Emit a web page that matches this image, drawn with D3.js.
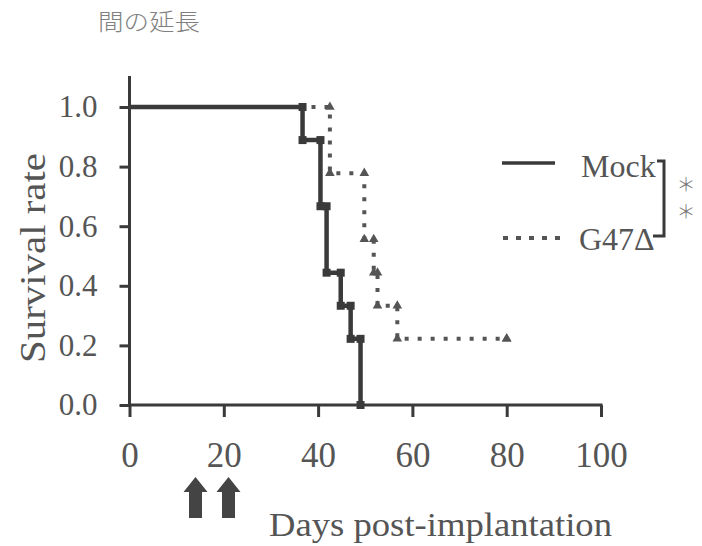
<!DOCTYPE html>
<html>
<head>
<meta charset="utf-8">
<script src="https://cdn.jsdelivr.net/npm/d3@7"></script>
<style>
  html, body { margin: 0; padding: 0; background: #fff; }
  svg { display: block; }
  text { font-family: "Liberation Serif", "DejaVu Serif", serif; }
</style>
</head>
<body>
<svg id="chart" width="702" height="546"></svg>
<script>
// ---- data ----
const title = "間の延長";
const xLabel = "Days post-implantation";
const yLabel = "Survival rate";
const xTicks = [0, 20, 40, 60, 80, 100];
const yTicks = [0.0, 0.2, 0.4, 0.6, 0.8, 1.0];
const seriesNames = ["Mock", "G47Δ"];
const mockDays = [0, 36.7, 40.5, 41.8, 44.8, 46.9, 49];
const mockSurv = [1.0, 0.889, 0.667, 0.444, 0.333, 0.222, 0.0];
const g47Days = [0, 42.5, 49.8, 51.8, 52.6, 56.8, 80];
const g47Surv = [1.0, 0.778, 0.556, 0.444, 0.333, 0.222, 0.222];
const arrowDays = [14, 21];
const significance = ["＊", "＊"];

// ---- layout ----
const svg = d3.select("#chart");
const x = d3.scaleLinear().domain([0, 100]).range([129.5, 601]);
const y = d3.scaleLinear().domain([0, 1]).range([405, 107]);
const axisColor = "#3a3a3a";
const textColor = "#555";

// title
svg.append("text").attr("x", 98).attr("y", 30)
  .style("font-family", "'Noto Sans CJK JP'").style("font-weight", 300)
  .style("font-size", "23px").attr("fill", "#808080")
  .attr("textLength", 102).attr("lengthAdjust", "spacingAndGlyphs")
  .text(title);

// axes
const gx = svg.append("g").attr("transform", `translate(0,${y(0)})`)
  .call(d3.axisBottom(x).tickValues(xTicks).tickSize(12).tickPadding(25).tickFormat(d3.format("d")));
const gy = svg.append("g").attr("transform", `translate(${x(0)},0)`)
  .call(d3.axisLeft(y).tickValues(yTicks).tickSize(10).tickPadding(22).tickFormat(d3.format(".1f")));
[gx, gy].forEach(g => {
  g.select(".domain").remove();
  g.selectAll(".tick line").attr("stroke", axisColor).attr("stroke-width", 3);
  g.selectAll(".tick text").attr("fill", textColor).style("font-family", "'Liberation Serif'");
});
gx.selectAll(".tick text").style("font-size", "35px");
gy.selectAll(".tick text").style("font-size", "31px");
// axis lines
svg.append("line").attr("x1", x(0)).attr("x2", x(0)).attr("y1", 76).attr("y2", y(0))
  .attr("stroke", axisColor).attr("stroke-width", 3);
svg.append("line").attr("x1", x(0)).attr("x2", x(100) + 1.5).attr("y1", y(0)).attr("y2", y(0))
  .attr("stroke", axisColor).attr("stroke-width", 3);

// axis titles
svg.append("text").attr("transform", `translate(45,${y(0.5) + 2}) rotate(-90)`)
  .attr("text-anchor", "middle").attr("fill", textColor)
  .style("font-size", "35px")
  .attr("textLength", 210).attr("lengthAdjust", "spacingAndGlyphs")
  .text(yLabel);
svg.append("text").attr("x", 269).attr("y", 536).attr("fill", textColor)
  .style("font-size", "34px")
  .attr("textLength", 343).attr("lengthAdjust", "spacingAndGlyphs")
  .text(xLabel);

// survival curves
const mock = mockDays.map((d, i) => ({ d, s: mockSurv[i] }));
const g47 = g47Days.map((d, i) => ({ d, s: g47Surv[i] }));
const line = d3.line().x(p => x(p.d)).y(p => y(p.s)).curve(d3.curveStepAfter);

svg.append("path").datum(g47).attr("d", line).attr("fill", "none")
  .attr("stroke", "#555").attr("stroke-width", 4).attr("stroke-dasharray", "4,9");
svg.append("path").datum(mock).attr("d", line).attr("fill", "none")
  .attr("stroke", "#3a3a3a").attr("stroke-width", 4.5);

// markers at step corners
function corners(arr) {
  const pts = [];
  arr.forEach((p, i) => {
    if (i > 0) pts.push({ d: p.d, s: arr[i - 1].s });
    pts.push(p);
  });
  return pts.filter(p => p.d > 0);
}
svg.append("g").selectAll("rect").data(corners(mock)).join("rect")
  .attr("x", p => x(p.d) - 4).attr("y", p => y(p.s) - 4).attr("width", 8).attr("height", 8)
  .attr("fill", "#3a3a3a");
const tri = d3.symbol().type(d3.symbolTriangle).size(40);
svg.append("g").selectAll("path").data(corners(g47)).join("path")
  .attr("transform", p => `translate(${x(p.d)},${y(p.s)})`).attr("d", tri)
  .attr("fill", "#555");

// legend
svg.append("line").attr("x1", 502).attr("x2", 555).attr("y1", 163).attr("y2", 163)
  .attr("stroke", "#3a3a3a").attr("stroke-width", 3.5);
svg.append("line").attr("x1", 503).attr("x2", 560).attr("y1", 238).attr("y2", 238)
  .attr("stroke", "#555").attr("stroke-width", 4).attr("stroke-dasharray", "5,8");
svg.append("text").attr("x", 581).attr("y", 177).attr("fill", textColor)
  .style("font-size", "32px").text(seriesNames[0]);
svg.append("text").attr("x", 579).attr("y", 250).attr("fill", textColor)
  .style("font-size", "32px").text(seriesNames[1]);
svg.append("path").attr("d", "M657,161 H664 V236 H653")
  .attr("fill", "none").attr("stroke", "#3a3a3a").attr("stroke-width", 3);
significance.forEach((c, i) => {
  svg.append("text").attr("x", 686).attr("y", 192 + i * 27).attr("text-anchor", "middle")
    .style("font-family", "'Noto Sans CJK JP'").style("font-weight", 300)
    .attr("fill", "#777").style("font-size", "19px").text(c);
});

// treatment arrows
const arrow = d => {
  const cx = x(d), top = 477, bot = 518, hw = 12, sw = 6.5, hh = 15;
  return `M${cx},${top} L${cx + hw},${top + hh} L${cx + sw},${top + hh} L${cx + sw},${bot} L${cx - sw},${bot} L${cx - sw},${top + hh} L${cx - hw},${top + hh} Z`;
};
svg.append("g").selectAll("path").data(arrowDays).join("path")
  .attr("d", arrow).attr("fill", "#444");
</script>
</body>
</html>
